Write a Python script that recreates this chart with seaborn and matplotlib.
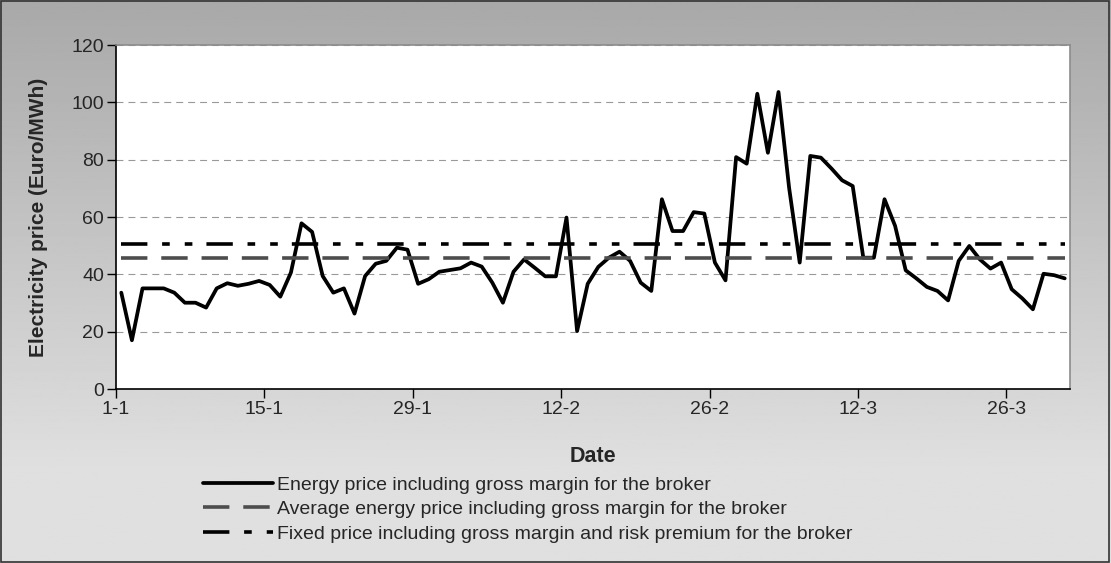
import numpy as np
import pandas as pd
import matplotlib
matplotlib.use("Agg")
import matplotlib.pyplot as plt
import seaborn as sns

# daily energy price 1-1 .. 31-3 (Euro/MWh)
energy_price = [
    33.6, 17.0, 35.1, 35.1, 35.1, 33.6, 30.1, 30.1, 28.4, 35.1,
    36.9, 36.0, 36.7, 37.7, 36.3, 32.2, 40.6, 57.8, 54.8, 39.4,
    33.6, 35.1, 26.3, 39.4, 43.7, 44.7, 49.3, 48.6, 36.7, 38.3,
    40.9, 41.5, 42.1, 44.1, 42.7, 37.1, 30.1, 40.9, 45.2, 42.3,
    39.3, 39.3, 59.8, 20.2, 36.7, 42.6, 45.8, 47.9, 44.7, 37.1,
    34.2, 66.2, 55.1, 55.1, 61.7, 61.2, 44.1, 37.9, 80.9, 78.6,
    103.0, 82.4, 103.6, 70.2, 44.1, 81.3, 80.7, 76.9, 72.8, 70.8,
    45.8, 45.8, 66.2, 56.9, 41.4, 38.6, 35.6, 34.2, 30.9, 44.7,
    49.9, 45.2, 42.0, 44.1, 34.8, 31.6, 27.8, 40.2, 39.7, 38.6,
]
average_price = 45.8
fixed_price = 50.7

tick_days = [0, 14, 28, 42, 56, 70, 84]
tick_labels = ["1-1", "15-1", "29-1", "12-2", "26-2", "12-3", "26-3"]
y_ticks = [0, 20, 40, 60, 80, 100, 120]

series_labels = [
    "Energy price including gross margin for the broker",
    "Average energy price including gross margin for the broker",
    "Fixed price including gross margin and risk premium for the broker",
]

sns.set_style("white")
plt.rcParams['font.family'] = ['Liberation Sans', 'DejaVu Sans']
plt.rcParams['lines.scale_dashes'] = False

df = pd.DataFrame({'day': np.arange(len(energy_price)) + 0.5, 'price': energy_price})
df['average'] = average_price
df['fixed'] = fixed_price

fig = plt.figure(figsize=(11.11, 5.63), dpi=100)

# grey gradient behind the chart, like the old excel export
bg = fig.add_axes([0, 0, 1, 1], zorder=0)
shade = np.clip(np.linspace(0.66, 0.92, 300), 0, 0.875).reshape(-1, 1)
bg.imshow(shade, aspect='auto', cmap='gray', vmin=0, vmax=1, extent=[0, 1, 0, 1])
bg.set_xlim(0, 1)
bg.set_ylim(0, 1)
bg.axis('off')
bg.add_patch(plt.Rectangle((0.001, 0.002), 0.997, 0.996, fill=False, ec='#333333', lw=1.2))

ax = fig.add_axes([116 / 1111, 1 - 389 / 563, 954 / 1111, 344 / 563], zorder=1)
ax.set_facecolor('white')

sns.lineplot(data=df, x='day', y='price', ax=ax, color='black', lw=2.7,
             label=series_labels[0])
sns.lineplot(data=df, x='day', y='average', ax=ax, color='#4d4d4d', lw=2.6,
             linestyle=(0, (19, 10)), label=series_labels[1])
sns.lineplot(data=df, x='day', y='fixed', ax=ax, color='black', lw=2.6,
             linestyle=(0, (19, 10.6, 5.5, 10.8, 5.5, 10.1)), label=series_labels[2])

ax.set_xlim(0, 90)
ax.set_ylim(0, 120)
ax.set_xticks(tick_days)
ax.set_xticklabels(tick_labels)
ax.set_yticks(y_ticks)
ax.tick_params(axis='both', direction='out', length=6.5, width=1, color='black',
               labelsize=14, bottom=True, left=True, pad=2)
ax.yaxis.grid(True, color='#999999', lw=0.8, linestyle=(0, (5, 3.6)))
ax.xaxis.grid(False)
ax.set_axisbelow(True)

for side in ['left', 'bottom']:
    ax.spines[side].set_color('black')
    ax.spines[side].set_linewidth(1.2)
for side in ['top', 'right']:
    ax.spines[side].set_color('#8c8c8c')
    ax.spines[side].set_linewidth(1.2)

ax.set_xlabel('Date', fontsize=15.5, fontweight='bold', labelpad=20)
ax.set_ylabel('Electricity price (Euro/MWh)', fontsize=15, fontweight='bold', labelpad=17)

ax.legend(loc='upper left', bbox_to_anchor=(203 / 1111, 1 - 476 / 563),
          bbox_transform=fig.transFigure, frameon=False, fontsize=14,
          handlelength=3.6, handletextpad=0.2, labelspacing=0.36,
          borderpad=0, borderaxespad=0)

fig.savefig('out.png', dpi=100)
